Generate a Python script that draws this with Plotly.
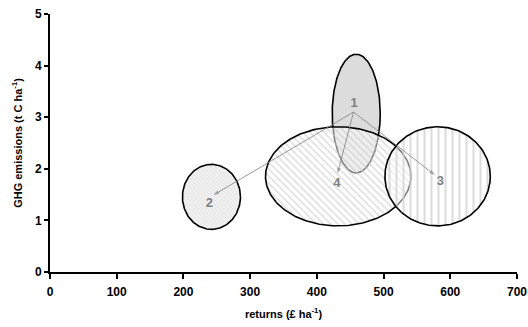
import numpy as np
import plotly.graph_objects as go

# Ellipse data (centre, half-widths) in data units
labels = ["1", "2", "4", "3"]
cx = [459, 242, 432, 581]
cy = [3.07, 1.456, 1.854, 1.854]
rx = [36, 43.5, 109, 79]
ry = [1.15, 0.63, 0.96, 0.96]

# Label positions
lab_names = ["1", "2", "3", "4"]
lab_x = [456, 239, 585, 430]
lab_y = [3.26, 1.33, 1.74, 1.72]

# Arrows (from scenario 1 to others)
arr_from_x = 455
arr_from_y = 3.10
arr_to_x = [245, 577, 431]
arr_to_y = [1.49, 1.88, 1.91]

x_ticks = [0, 100, 200, 300, 400, 500, 600, 700]
y_ticks = [0, 1, 2, 3, 4, 5]

styles = {
    "1": dict(fillcolor="#dcdcdc", fillpattern=None),
    "2": dict(fillcolor="#f0f0f0",
              fillpattern=dict(shape="x", size=3, solidity=0.2, fgcolor="#cfcfcf",
                               bgcolor="#f2f2f2", fillmode="replace")),
    "4": dict(fillcolor="rgba(255,255,255,0.5)",
              fillpattern=dict(shape="\\", size=5, solidity=0.3, fgcolor="rgba(200,200,200,0.6)",
                               bgcolor="rgba(255,255,255,0.5)", fillmode="replace")),
    "3": dict(fillcolor="rgba(255,255,255,0.5)",
              fillpattern=dict(shape="|", size=7, solidity=0.3, fgcolor="rgba(205,205,205,0.7)",
                               bgcolor="rgba(255,255,255,0.5)", fillmode="replace")),
}

fig = go.Figure()
t = np.linspace(0, 2 * np.pi, 241)
for name, x0, y0, a, b in zip(labels, cx, cy, rx, ry):
    st = styles[name]
    kw = dict(x=x0 + a * np.cos(t), y=y0 + b * np.sin(t), mode="lines",
              fill="toself", fillcolor=st["fillcolor"],
              line=dict(color="black", width=1.6), hoverinfo="skip", showlegend=False)
    if st["fillpattern"] is not None:
        kw["fillpattern"] = st["fillpattern"]
    fig.add_trace(go.Scatter(**kw))

for tx, ty in zip(arr_to_x, arr_to_y):
    fig.add_trace(go.Scatter(
        x=[arr_from_x, tx], y=[arr_from_y, ty], mode="lines+markers",
        line=dict(color="#808080", width=0.8),
        marker=dict(symbol="arrow", size=[0, 6], angleref="previous", color="#808080",
                    line=dict(width=0)),
        hoverinfo="skip", showlegend=False))

fig.add_trace(go.Scatter(
    x=lab_x, y=lab_y, mode="text", text=["<b>%s</b>" % n for n in lab_names],
    textfont=dict(family="Liberation Sans", size=13, color="#808080"),
    hoverinfo="skip", showlegend=False))

fig.update_layout(
    width=528, height=327,
    margin=dict(l=50, r=11, t=14, b=55),
    paper_bgcolor="white", plot_bgcolor="white",
    font=dict(family="Liberation Sans", size=12, color="black"),
    xaxis=dict(range=[0, 700], tickvals=x_ticks, ticktext=["<b>%d</b>" % v for v in x_ticks],
               automargin=False, tickfont=dict(size=12), ticklabelstandoff=3,
               ticklabeloverflow="allow",
               showgrid=False, zeroline=False, showline=True, linecolor="black", linewidth=2,
               ticks="outside", ticklen=5, tickwidth=2, tickcolor="black",
               title=dict(text="<b>returns (£ ha<sup>-1</sup>)</b>", font=dict(size=11), standoff=12)),
    yaxis=dict(range=[0, 5], tickvals=y_ticks, ticktext=["<b>%d</b>" % v for v in y_ticks],
               automargin=False, tickfont=dict(size=12), ticklabeloverflow="allow",
               showgrid=False, zeroline=False, showline=True, linecolor="black", linewidth=2,
               ticks="outside", ticklen=4, tickwidth=2, tickcolor="black",
               title=dict(text="<b>GHG emissions (t C ha<sup>-1</sup>)</b>", font=dict(size=11), standoff=10)),
)

fig.write_html("out.html", config={"displayModeBar": False},
               post_script="document.body.style.margin='0';document.body.style.overflow='hidden';")
